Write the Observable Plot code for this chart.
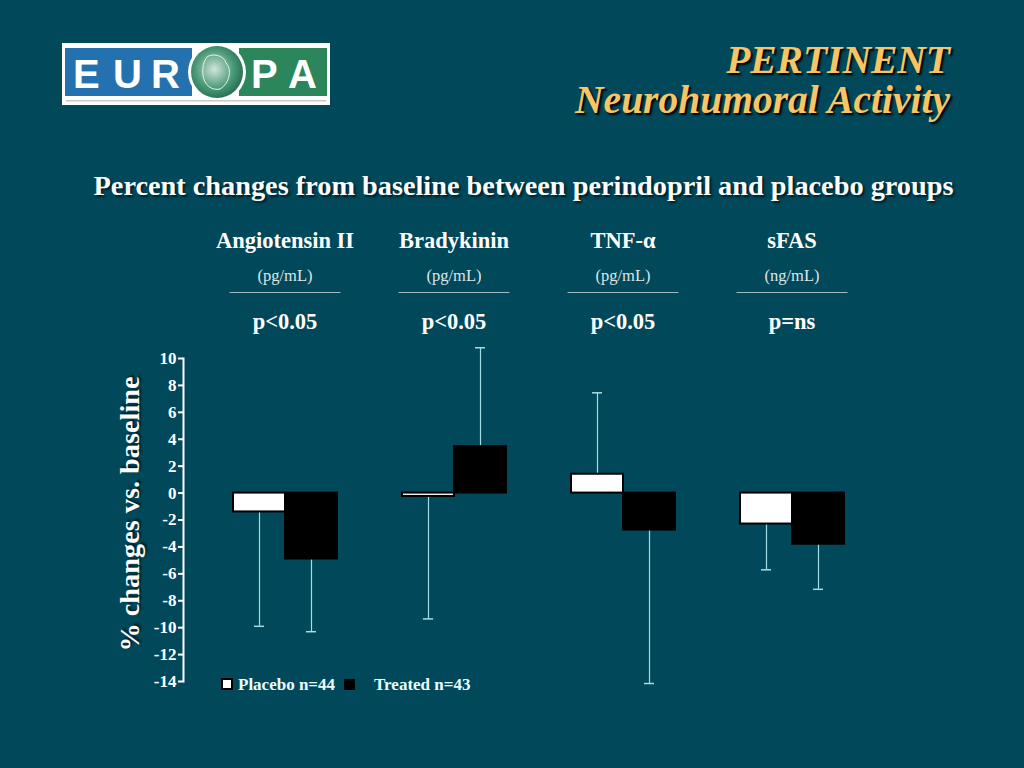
<!DOCTYPE html>
<html><head><meta charset="utf-8">
<script src="https://cdn.jsdelivr.net/npm/d3@7"></script>
<script src="https://cdn.jsdelivr.net/npm/@observablehq/plot@0.6"></script>
<style>
html,body{margin:0;padding:0;}
body{width:1024px;height:768px;background:#01485a;position:relative;overflow:hidden;font-family:"Liberation Serif","Times New Roman",serif;color:#fff;}
.abs{position:absolute;white-space:nowrap;}
#chart{position:absolute;left:0;top:300px;}
.hd{position:absolute;white-space:nowrap;transform:translateX(-50%);text-align:center;}
.name{font-weight:bold;font-size:22.5px;line-height:24px;top:229px;color:#fff;}
.unit{font-size:16.5px;line-height:18px;top:267px;color:#dde6e8;}
.sep{position:absolute;top:292px;height:1px;background:#9fbac2;width:111px;transform:translateX(-50%);}
.pv{font-weight:bold;font-size:22.5px;line-height:24px;top:310px;color:#fff;}
</style></head><body>

<!-- logo -->
<svg class="abs" style="left:62px;top:43px" width="268" height="62" viewBox="0 0 268 62">
  <rect x="0" y="0" width="268" height="62" fill="#ffffff"/>
  <rect x="3" y="5" width="127" height="48" fill="#2471b0"/>
  <rect x="177" y="5" width="88" height="48" fill="#2b865c"/>
  <defs><radialGradient id="hg" cx="0.45" cy="0.45" r="0.6"><stop offset="0" stop-color="#cfe6da"/><stop offset="0.6" stop-color="#4d9a78"/><stop offset="1" stop-color="#1f6a4c"/></radialGradient></defs>
  <circle cx="155" cy="29" r="29" fill="#ffffff"/>
  <circle cx="155" cy="29" r="26" fill="url(#hg)"/>
  <path d="M145 14 C150 10 162 12 164 20 C170 26 168 40 158 46 C150 48 142 42 141 32 C140 24 142 18 145 14 Z" fill="none" stroke="#e8f4ee" stroke-width="1"/>
  <g fill="#ffffff" font-family="'Liberation Sans',Arial,sans-serif" font-weight="bold" font-size="40">
    <text x="11" y="45">E</text><text x="51" y="45">U</text><text x="89" y="45">R</text>
    <text x="189" y="45">P</text><text x="226" y="45">A</text>
  </g>
  <rect x="4" y="57" width="260" height="1.5" fill="#c8c8c8"/>
</svg>

<div class="abs" style="right:74px;top:40px;font-size:39.5px;line-height:40px;font-weight:bold;font-style:italic;color:#f7c466;text-align:right;text-shadow:2px 2px 2px #000;">PERTINENT<br>Neurohumoral Activity</div>

<div class="hd" style="left:523.5px;top:170px;font-size:28.3px;line-height:32px;font-weight:bold;color:#fff;text-shadow:2px 2px 2px #002028;">Percent changes from baseline between perindopril and placebo groups</div>

<div class="abs" style="left:130px;top:514px;transform:translate(-50%,-50%) rotate(-90deg);font-size:28.3px;line-height:30px;font-weight:bold;color:#fff;text-shadow:2px 2px 2px #002028;">% changes vs. baseline</div>

<div id="chart"></div>

<div class="abs" style="left:221px;top:675px;font-size:17px;line-height:20px;font-weight:bold;color:#eaffff;">
  <span style="display:inline-block;width:8px;height:8px;background:#fff;border:2px solid #000;vertical-align:0px;"></span><span style="margin-left:5px;">Placebo n=44</span><span style="display:inline-block;width:11px;height:11px;background:#000;margin-left:9px;vertical-align:0px;"></span><span style="margin-left:19px;">Treated n=43</span>
</div>

<script>
const cats = ["Angiotensin II", "Bradykinin", "TNF-α", "sFAS"];
const units = ["(pg/mL)", "(pg/mL)", "(pg/mL)", "(ng/mL)"];
const pvals = ["p<0.05", "p<0.05", "p<0.05", "p=ns"];
const groups = ["Placebo", "Treated"];
const placeboMean = [-1.4, -0.25, 1.4, -2.3];
const placeboErr = [8.5, 9.1, 6.05, 3.4];
const treatedMean = [-4.9, 3.45, -2.75, -3.8];
const treatedErr = [5.4, 7.35, 11.4, 3.35];
const yTicks = [10, 8, 6, 4, 2, 0, -2, -4, -6, -8, -10, -12, -14];

const rows = cats.flatMap((c, i) => [
  {cat: c, group: groups[0], mean: placeboMean[i], end: placeboMean[i] + Math.sign(placeboMean[i]) * placeboErr[i]},
  {cat: c, group: groups[1], mean: treatedMean[i], end: treatedMean[i] + Math.sign(treatedMean[i]) * treatedErr[i]}
]);

const errColor = "#a6dde2";

const chart = Plot.plot({
  width: 1024, height: 400,
  marginLeft: 183, marginRight: 165, marginTop: 58, marginBottom: 19,
  style: {background: "transparent", color: "#fff", fontFamily: "'Liberation Serif', serif", fontSize: "17px", fontWeight: "bold", overflow: "visible"},
  fx: {domain: cats, padding: 0, axis: null, label: null},
  x: {domain: groups, padding: 0, insetLeft: 49, insetRight: 15, axis: null, label: null},
  y: {domain: [-14, 10], label: null},
  color: {domain: groups, range: ["#ffffff", "#000000"]},
  marks: [
    Plot.frame({anchor: "left", fx: [cats[0]], stroke: "#fff", strokeWidth: 2}),
    Plot.axisY({ticks: yTicks, tickSize: 5, tickPadding: 2, tickFormat: d => String(d), strokeWidth: 2, label: null}),
    Plot.ruleX(rows, {fx: "cat", x: "group", y1: "mean", y2: "end", stroke: errColor, strokeWidth: 1.2}),
    Plot.tickY(rows, {fx: "cat", x: "group", y: "end", stroke: errColor, strokeWidth: 1.5, insetLeft: 21, insetRight: 21}),
    Plot.barY(rows, {fx: "cat", x: "group", y: "mean", fill: "group", stroke: "#000", strokeWidth: 2})
  ]
});
document.getElementById("chart").appendChild(chart);

const fxs = chart.scale("fx"), xs = chart.scale("x");
cats.forEach((c, i) => {
  const cx = xs.apply(groups[1]) + fxs.apply(c) - fxs.apply(cats[0]);
  const add = (cls, txt) => {
    const d = document.createElement("div");
    d.className = cls;
    d.style.left = cx + "px";
    if (txt != null) d.textContent = txt;
    document.body.appendChild(d);
  };
  add("hd name", c);
  add("hd unit", units[i]);
  add("sep", null);
  add("hd pv", pvals[i]);
});
</script>
</body></html>
